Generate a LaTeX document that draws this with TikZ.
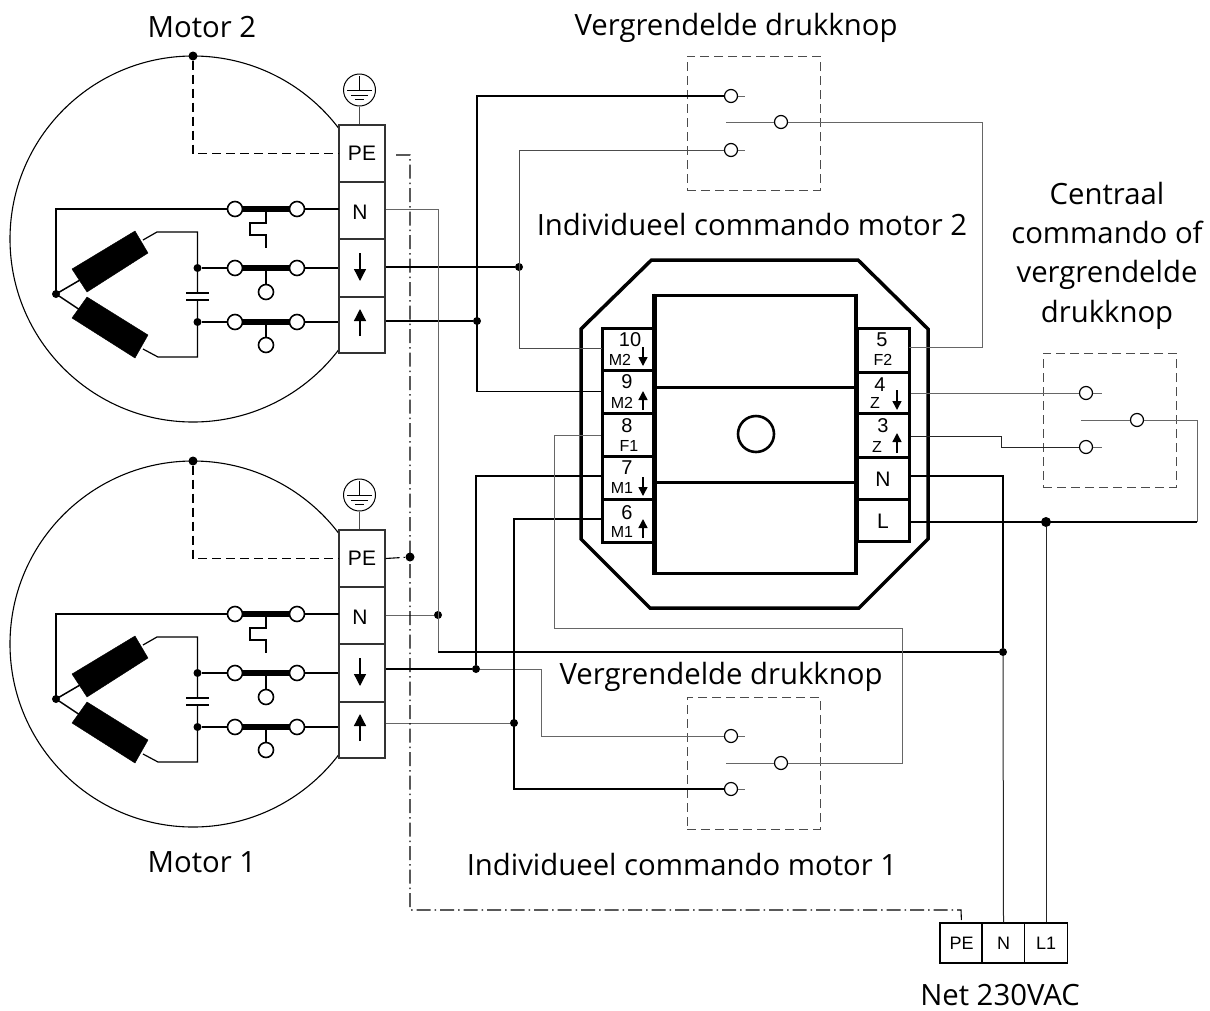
\documentclass[tikz,border=0pt]{standalone}
\usepackage{fontspec}
\setmainfont{Open Sans}
\newfontfamily\termfont{Liberation Sans}
\usetikzlibrary{arrows.meta,calc}
\tikzset{
  wire/.style={line width=1pt,draw=black!85},
  hwire/.style={line width=1.4pt,draw=black},
  gwire/.style={line width=1pt,draw=black!60},
  dashbox/.style={line width=0.9pt,draw=black!70,dash pattern=on 9pt off 5pt},
  pedash/.style={line width=1.1pt,draw=black,dash pattern=on 14pt off 4pt on 1.5pt off 4pt},
  mdash/.style={line width=1.3pt,draw=black,dash pattern=on 9pt off 5pt},
  dotn/.style={circle,fill=black,inner sep=0pt,minimum size=#1},
  dotn/.default=8pt,
  contact/.style={circle,draw=black,line width=1.2pt,fill=white,inner sep=0pt,minimum size=13pt},
  bigcontact/.style={circle,draw=black,line width=1.6pt,fill=white,inner sep=0pt,minimum size=15pt},
  cell/.style={rectangle,draw=black!80,line width=1.1pt,fill=white,inner sep=0pt,minimum width=46pt,minimum height=#1},
  coil/.style={fill=black,draw=black},
  tcell/.style={rectangle,draw=black,line width=3pt,fill=white,inner sep=0pt,minimum width=52pt,minimum height=#1},
  num/.style={font=\termfont\fontsize{20}{20}\selectfont,inner sep=0pt},
  lab/.style={font=\termfont\fontsize{16}{16}\selectfont,inner sep=0pt},
  big/.style={font=\termfont\fontsize{21}{21}\selectfont,inner sep=0pt},
  head/.style={font=\fontsize{29.3}{39.3}\selectfont,inner sep=0pt,align=center},
  netcell/.style={rectangle,draw=black,line width=1.1pt,fill=white,inner sep=0pt,minimum width=43pt,minimum height=40pt,font=\termfont\fontsize{18}{18}\selectfont},
  arr/.style={line width=1.3pt,-{Triangle[width=#1,length=#1]}},
  arr/.default=12pt,
  sarr/.style={line width=1.5pt,-{Triangle[width=9pt,length=9pt]}},
  device/.style={line width=3.5pt,draw=black}
}
% #1 name prefix, #2 y shift
\newcommand{\motorblock}[2]{%
\begin{scope}[shift={(0,#2)}]
  \node[circle,draw=black,line width=1.1pt,minimum size=366pt,inner sep=0pt] (#1body) at (193,239) {};
  \node[dotn=9pt] (#1top) at (193,56) {};
  \coordinate (#1dcorner) at (193,153.5);
  \node[cell=57pt] (#1PE) at (362,153.5) {};
  \node[cell=57pt] (#1N) at (362,210.5) {};
  \node[cell=58pt] (#1D) at (362,268) {};
  \node[cell=56pt] (#1U) at (362,325) {};
  \node[font=\termfont\fontsize{21}{21}\selectfont,inner sep=0pt] (#1PEt) at (362,153) {PE};
  \node[font=\termfont\fontsize{21}{21}\selectfont,inner sep=0pt] (#1Nt) at (360,212) {N};
  \coordinate (#1Da) at (360,253); \coordinate (#1Db) at (360,281);
  \coordinate (#1Ua) at (360,336); \coordinate (#1Ub) at (360,309);
  \draw[arr] (#1Da) -- (#1Db);
  \draw[arr] (#1Ua) -- (#1Ub);
  \draw[mdash] (#1top) -- (#1dcorner) -- (#1PE.west);
  % earth
  \node[circle,draw=black,line width=1pt,minimum size=32pt,inner sep=0pt] (#1gnd) at (359.5,90) {};
  \draw[line width=1pt,draw=black!70] (#1gnd.south) -- (#1PE.north -| #1gnd.south);
  \draw[line width=1pt] (359.5,76) -- (359.5,90);
  \draw[line width=1pt] (347,90) -- (372,90);
  \draw[line width=1pt] (351,95) -- (368,95);
  \draw[line width=1pt] (355,99.5) -- (364,99.5);
  % contacts
  \coordinate (#1star) at (56,294);
  \coordinate (#1corner) at (56,209);
  \draw[hwire] (#1star) -- (#1corner) -- (235,209);
  \draw[hwire] (297,209) -- (339,209);
  \draw[line width=6.5pt] (235,209) -- (297,209);
  \draw[line width=6.5pt] (235,268) -- (297,268);
  \draw[line width=6.5pt] (235,322) -- (297,322);
  \node[bigcontact] (#1a1) at (235,209) {};
  \node[bigcontact] (#1a2) at (297,209) {};
  \node[bigcontact] (#1b1) at (235,268) {};
  \node[bigcontact] (#1b2) at (297,268) {};
  \node[bigcontact] (#1c1) at (235,322) {};
  \node[bigcontact] (#1c2) at (297,322) {};
  \draw[line width=1.2pt] (266,209) -- (266,223) -- (250,223) -- (250,235) -- (266,235) -- (266,248);
  \node[bigcontact] (#1bk) at (266,292) {};
  \node[bigcontact] (#1ck) at (266,345) {};
  \draw[line width=1.2pt] (266,268) -- (#1bk);
  \draw[line width=1.2pt] (266,322) -- (#1ck);
  \node[dotn=8pt] (#1jb) at (197.5,268) {};
  \node[dotn=8pt] (#1jc) at (197.5,322) {};
  \draw[line width=1.2pt] (#1jb) -- (#1b1);
  \draw[line width=1.2pt] (#1jc) -- (#1c1);
  \draw[line width=1.2pt] (#1b2) -- (#1b2 -| #1D.west);
  \draw[line width=1.2pt] (#1c2) -- (#1c2 -| #1U.west);
  % capacitor and coils
  \draw[line width=1.2pt] (143,240) -- (157,232) -- (197.5,232) -- (197.5,293);
  \draw[line width=1.2pt] (143,349) -- (158,357) -- (197.5,357) -- (197.5,300);
  \draw[line width=1.2pt] (186,293) -- (209,293);
  \draw[line width=1.2pt] (186,300) -- (209,300);
  \fill[coil] (135,231) -- (148,253) -- (87,292) -- (72,269) -- cycle;
  \fill[coil] (87,297) -- (148,335) -- (135,358) -- (72,318) -- cycle;
  \draw[line width=1.5pt] (#1star) -- (80,280);
  \draw[line width=1.5pt] (#1star) -- (80,310);
  \node[dotn=8pt] (#1stard) at (#1star) {};
\end{scope}}
\begin{document}
\begin{tikzpicture}[x=1pt,y=-1pt]
\useasboundingbox (0,0) rectangle (1210,1010);
\fill[white] (0,0) rectangle (1210,1010);

% device
\draw[device] (651.5,260) -- (858,260) -- (928,329) -- (928,539) -- (859,608) -- (650,608) -- (581,539) -- (581,329) -- cycle;
\node[rectangle,draw=black,line width=3pt,fill=white,minimum width=200pt,minimum height=278pt,inner sep=0pt] (core) at (755,434) {};
\foreach \a/\y/\h/\n in {10/349/42/t10,9/391.5/43/t9,8/434.5/43/t8,7/477.5/43/t7,6/520.5/43/t6}
  \node[tcell=\h pt] (\n) at (628.5,\y) {};
\foreach \a/\y/\h/\n in {5/350/44/t5,4/392.5/41/t4,3/435/44/t3,N/478/42/tN,L/520/42/tL}
  \node[tcell=\h pt] (\n) at (883,\y) {};
\draw[line width=3pt] (655,387) -- (855,387);
\draw[line width=3pt] (655,482) -- (855,482);
\node[circle,draw=black,line width=2.6pt,minimum size=36pt,inner sep=0pt] (knob) at (756,434) {};
\draw[line width=3pt] (core.north west) -- (core.south west);
\draw[line width=3pt] (core.north east) -- (core.south east);

\node[num] (n10) at (630,340) {10}; \node[lab] (l10) at (620,360) {M2};
\node[num] (n9) at (627,382) {9};   \node[lab] (l9) at (622,403) {M2};
\node[num] (n8) at (627,426) {8};   \node[lab] (l8) at (629,446) {F1};
\node[num] (n7) at (627,468) {7};   \node[lab] (l7) at (622,488) {M1};
\node[num] (n6) at (627,513) {6};   \node[lab] (l6) at (622,532) {M1};
\node[num] (n5) at (882,340) {5};   \node[lab] (l5) at (883,360) {F2};
\node[num] (n4) at (880,385) {4};   \node[lab] (l4) at (875,403) {Z};
\node[num] (n3) at (883,426) {3};   \node[lab] (l3) at (877,447) {Z};
\node[big] (nN) at (883,479) {N};   \node[big] (nL) at (883,521) {L};
\draw[sarr] (643,347) -- (643,366);
\draw[sarr] (643,410) -- (643,391);
\draw[sarr] (643,477) -- (643,496);
\draw[sarr] (643,538) -- (643,519);
\draw[sarr] (897,390) -- (897,410);
\draw[sarr] (897,453) -- (897,433);

% push button boxes
\node[rectangle,dashbox,minimum width=133pt,minimum height=134pt,inner sep=0pt] (boxA) at (753.5,123) {};
\node[rectangle,dashbox,minimum width=133pt,minimum height=132pt,inner sep=0pt] (boxB) at (753.5,763) {};
\node[rectangle,dashbox,minimum width=133pt,minimum height=134pt,inner sep=0pt] (boxC) at (1109.5,420) {};

% motors
\motorblock{ma}{0}
\motorblock{mb}{405}

% junctions and bends
\node[dotn] (j1) at (477,321) {};
\node[dotn] (j2) at (519,267) {};
\node[dotn] (j3) at (438,615) {};
\node[dotn] (j4) at (476,669) {};
\node[dotn] (j5) at (514,723) {};
\node[dotn] (j6) at (1003,652) {};
\node[dotn=10pt] (j7) at (1046,522) {};
\node[dotn=9pt] (j8) at (410,557) {};

% contacts in boxes
\node[contact] (a1) at (731,96) {};
\node[contact] (a2) at (731,150) {};
\node[contact] (a3) at (781,122) {};
\node[contact] (b1) at (731,736) {};
\node[contact] (b2) at (731,789) {};
\node[contact] (b3) at (781,763) {};
\node[contact] (c1) at (1086,393) {};
\node[contact] (c2) at (1086,447) {};
\node[contact] (c3) at (1137,420) {};
\foreach \n/\l/\r in {a1/745/0,a2/745/0,b1/745/0,b2/745/0,c1/1102/0,c2/1102/0}
  \draw[gwire] (\n.east) -- (\l,0 |- \n);
\draw[gwire] (a3.west) -- ++(-48,0) coordinate (a3e);
\draw[gwire] (b3.west) -- ++(-48,0) coordinate (b3e);
\draw[gwire] (c3.west) -- ++(-49,0) coordinate (c3e);

% net terminals
\node[netcell] (nPE) at (961.5,943) {PE};
\node[netcell] (nNn) at (1003.5,943) {N};
\node[netcell] (nL1) at (1046,943) {L1};

% wires
\coordinate (pA) at (477,96);
\coordinate (pB) at (519,150);
\coordinate (pC) at (982,122);
\coordinate (pD) at (438,652);
\coordinate (pE) at (541,669);
\coordinate (pF) at (902,763);
\coordinate (pG) at (554,628);
\coordinate (pH) at (1197,522);
\draw[wire,draw=black,line width=1.2pt] (a1) -- (pA) -- (pA |- t9.west) -- (t9.west);
\draw[hwire,line width=1.2pt] (maU.east |- j1) -- (j1);
\draw[hwire] (maD.east |- j2) -- (j2);
\draw[gwire,draw=black!70] (a2) -- (pB) -- (pB |- 0,348) -- (602,348);
\draw[gwire] (a3) -- (pC) -- (982,347) -- (909,347);
\draw[gwire] (maN.east |- 0,209) -- (438,209) -- (pD);
\draw[gwire] (mbN.east |- j3) -- (j3);
\draw[hwire,line width=1.2pt] (pD) -- (j6);
\draw[hwire,line width=1.2pt] (mbD.east |- j4) -- (j4);
\draw[gwire] (j4) -- (pE) -- (541,736) -- (b1);
\draw[hwire,line width=1.2pt] (t7.west |- 0,476) -- (476,476) -- (j4);
\draw[gwire] (mbU.east |- j5) -- (j5);
\draw[hwire,line width=1.2pt] (t6.west |- 0,519) -- (514,519) -- (514,789) -- (b2);
\draw[gwire] (t8.west |- 0,435) -- (554,435) -- (pG) -- (902,628) -- (pF) -- (b3);
\draw[gwire] (tN.east |- 0,393) -- (c1);
\draw[wire] (t3.east |- 0,436) -- (1001,436) -- (1001,447) -- (c2);
\draw[hwire,line width=1.2pt] (tN.east |- 0,476) -- (1003,476) -- (j6);
\draw[wire] (j6) -- (nNn.north);
\draw[hwire,line width=1.2pt] (tL.east |- 0,522) -- (pH);
\draw[gwire] (pH) -- (1197,420) -- (c3);
\draw[wire] (j7) -- (nL1.north);
\draw[pedash] (396,155) -- (410,155) -- (410,910) -- (961,910) -- (nPE.north);
\draw[pedash] (mbPE.east) -- (j8);

% text
\node[head,anchor=base] (h1) at (202,37) {Motor 2};
\node[head,anchor=base] (h2) at (736,35) {Vergrendelde drukknop};
\node[head,anchor=base] (h3) at (752,235) {Individueel commando motor 2};
\node[head] (h4) at (1107,255.5) {Centraal\\commando of\\vergrendelde\\drukknop};
\node[head,anchor=base] (h5) at (721,684) {Vergrendelde drukknop};
\node[head,anchor=base] (h6) at (202,872) {Motor 1};
\node[head,anchor=base] (h7) at (682,875) {Individueel commando motor 1};
\node[head,anchor=base] (h8) at (1000,1005) {Net 230VAC};
\end{tikzpicture}
\end{document}
